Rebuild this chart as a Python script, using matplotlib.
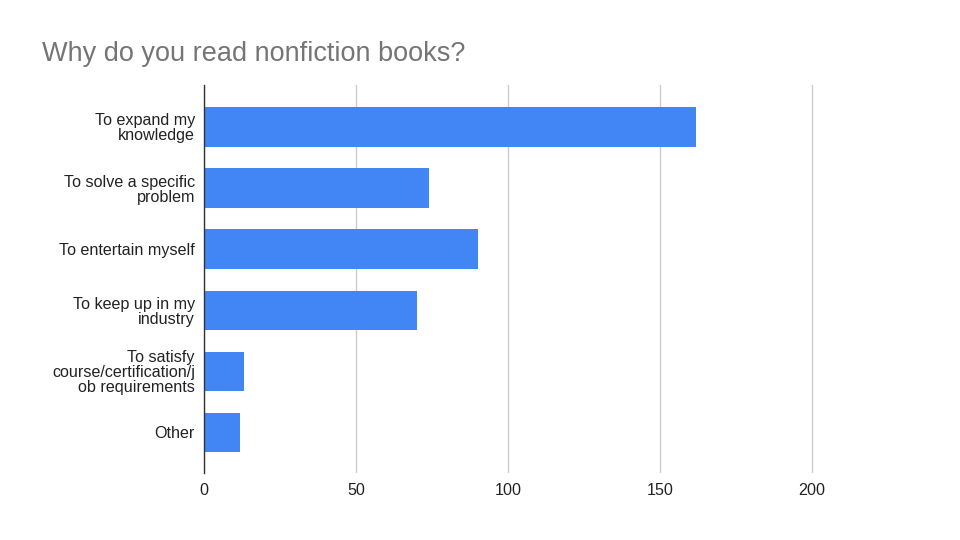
import matplotlib
matplotlib.use("Agg")
import matplotlib.pyplot as plt

categories = [
    "To expand my\nknowledge",
    "To solve a specific\nproblem",
    "To entertain myself",
    "To keep up in my\nindustry",
    "To satisfy\ncourse/certification/j\nob requirements",
    "Other",
]
values = [162, 74, 90, 70, 13, 12]
x_ticks = [0, 50, 100, 150, 200]
title = "Why do you read nonfiction books?"

plt.rcParams['font.family'] = ['Liberation Sans', 'DejaVu Sans']

fig = plt.figure(figsize=(9.6, 5.4), dpi=100)
ax = fig.add_axes([204/960, 1-473/540, (860-204)/960, (473-85)/540])

pos = list(range(len(categories)))
ax.barh(pos, values, height=0.645, color="#4285F4", zorder=3)
ax.set_ylim(len(categories) - 1 + 0.663, -0.687)
ax.set_xlim(0, (860-204)/3.04)

ax.set_yticks(pos)
ax.set_yticklabels(categories, fontsize=11.6, color="#222222", linespacing=1.0, ha="right")
ax.set_xticks(x_ticks)
ax.set_xticklabels([str(t) for t in x_ticks], fontsize=11.6, color="#222222")
ax.tick_params(axis="y", length=0, pad=6.5)
ax.tick_params(axis="x", length=0, pad=7.5)

ax.grid(axis="x", color="#cccccc", linewidth=1, zorder=0)
for s in ["top", "right", "bottom"]:
    ax.spines[s].set_visible(False)
ax.spines["left"].set_color("#333333")
ax.spines["left"].set_linewidth(1)
ax.spines["left"].set_zorder(4)

fig.text(42/960, 1-54/540, title, fontsize=19.5, color="#757575", ha="left", va="center")

fig.savefig("out.png", dpi=100)
